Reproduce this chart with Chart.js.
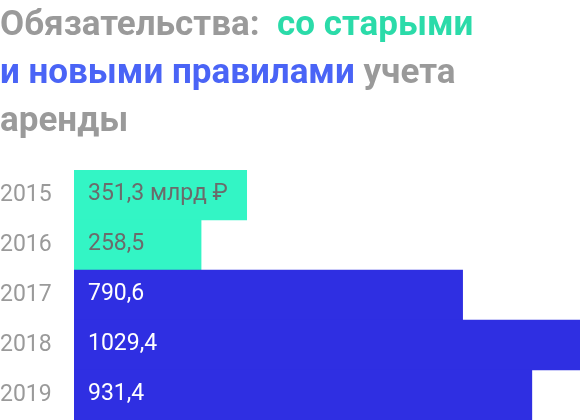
<!DOCTYPE html>
<html>
<head>
<meta charset="utf-8">
<script src="https://cdn.jsdelivr.net/npm/chart.js@4/dist/chart.umd.min.js"></script>
<style>
    html, body { margin: 0; padding: 0; background: #fff; }
    #wrap { position: relative; width: 580px; height: 420px; overflow: hidden; }
    #title {
        position: absolute; left: 0; top: 0;
        font-family: Roboto, sans-serif; font-weight: bold;
        font-size: 35px; line-height: 48px; color: #9a9a9a;
        white-space: nowrap;
    }
    .old { color: #2bdba9; }
    .new { color: #4a64f6; }
</style>
</head>
<body>
<div id="wrap">
    <canvas id="liabilitiesChart" width="580" height="420"></canvas>
    <div id="title">Обязательства:&nbsp; <span class="old">со старыми</span><br><span class="new">и новыми правилами</span> учета<br>аренды</div>
</div>
<script>
// данные: обязательства, млрд руб.
const years = ['2015', '2016', '2017', '2018', '2019'];
const liabilities = [351.3, 258.5, 790.6, 1029.4, 931.4];
const rules = ['old', 'old', 'new', 'new', 'new'];

const colors = { old: '#33f5c5', new: '#2f2fe2' };
const labelColors = { old: '#6b6b6b', new: '#ffffff' };

function formatValue(v) {
    return v.toFixed(1).replace('.', ',');
}

// подписи значений внутри столбцов
const valueLabels = {
    id: 'valueLabels',
    afterDatasetsDraw(chart) {
        const ctx = chart.ctx;
        const meta = chart.getDatasetMeta(0);
        ctx.save();
        ctx.font = '23px Roboto, sans-serif';
        ctx.textBaseline = 'middle';
        ctx.textAlign = 'left';
        meta.data.forEach((bar, i) => {
            let text = formatValue(liabilities[i]);
            if (i === 0) text += ' млрд ₽';
            ctx.fillStyle = labelColors[rules[i]];
            ctx.fillText(text, bar.base + 14, bar.y - 1);
        });
        ctx.restore();
    }
};

const ctx = document.getElementById('liabilitiesChart').getContext('2d');
new Chart(ctx, {
    type: 'bar',
    data: {
        labels: years,
        datasets: [{
            data: liabilities,
            backgroundColor: rules.map(r => colors[r]),
            borderWidth: 0,
            barPercentage: 1,
            categoryPercentage: 1
        }]
    },
    options: {
        indexAxis: 'y',
        responsive: false,
        animation: false,
        layout: { padding: { top: 170, right: 0, bottom: 0, left: 0 } },
        plugins: {
            legend: { display: false },
            tooltip: { enabled: false }
        },
        scales: {
            x: {
                display: false,
                min: 0,
                max: 1029.4
            },
            y: {
                grid: { display: false },
                border: { display: false },
                ticks: {
                    color: '#9a9a9a',
                    font: { family: 'Roboto, sans-serif', size: 23 },
                    crossAlign: 'far',
                    padding: 0
                },
                afterFit(scale) {
                    scale.width = 74;
                    // нижний столбец должен доходить до края
                    scale.paddingTop = 0;
                    scale.paddingBottom = 0;
                }
            }
        }
    },
    plugins: [valueLabels]
});
</script>
</body>
</html>
